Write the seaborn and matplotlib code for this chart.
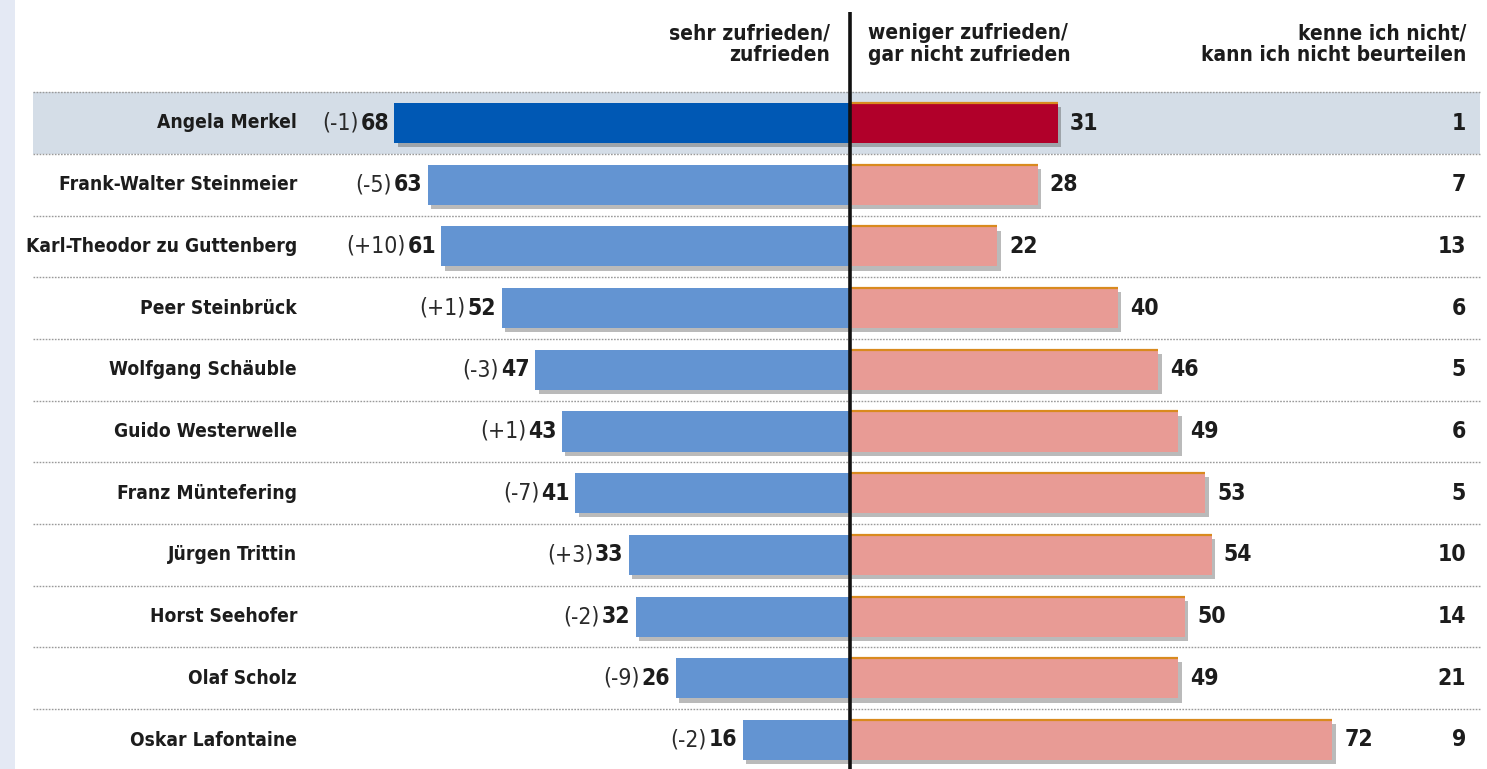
import matplotlib
matplotlib.use('Agg')
import matplotlib.pyplot as plt
import seaborn as sns
import numpy as np
import pandas as pd
from matplotlib import patheffects as pe
from matplotlib.patches import Rectangle

# ---------------- data ----------------
names = ["Angela Merkel", "Frank-Walter Steinmeier", "Karl-Theodor zu Guttenberg",
         "Peer Steinbrück", "Wolfgang Schäuble", "Guido Westerwelle",
         "Franz Müntefering", "Jürgen Trittin", "Horst Seehofer",
         "Olaf Scholz", "Oskar Lafontaine"]
satisfied = [68, 63, 61, 52, 47, 43, 41, 33, 32, 26, 16]
change = ["(-1)", "(-5)", "(+10)", "(+1)", "(-3)", "(+1)", "(-7)", "(+3)", "(-2)", "(-9)", "(-2)"]
dissatisfied = [31, 28, 22, 40, 46, 49, 53, 54, 50, 49, 72]
unknown = [1, 7, 13, 6, 5, 6, 5, 10, 14, 21, 9]

header_sat = "sehr zufrieden/\nzufrieden"
header_dis = "weniger zufrieden/\ngar nicht zufrieden"
header_unk = "kenne ich nicht/\nkann ich nicht beurteilen"

# ---------------- style ----------------
sns.set_theme(style="white")
FAM = ['DejaVu Sans']
plt.rcParams['font.family'] = FAM
ST = 'condensed'

W, H = 1487, 769
fig = plt.figure(figsize=(W / 100, H / 100), dpi=100, facecolor='white')
ax = fig.add_axes([0, 0, 1, 1])
ax.patch.set_visible(False)

CX, SX = 850, 6.7
Y0, SY = 123, 61.7
def px2x(p): return (p - CX) / SX
def px2y(p): return (p - Y0) / SY

df = pd.DataFrame({"name": names, "sat": satisfied, "dis": dissatisfied, "unk": unknown})
df["neg"] = -df["sat"]

blue_pal = ['#0058b4'] + ['#6394d2'] * (len(names) - 1)
red_pal = ['#b1002a'] + ['#e89b95'] * (len(names) - 1)

sns.barplot(data=df, x="neg", y="name", hue="name", palette=blue_pal, width=0.65,
            legend=False, ax=ax, orient="h", dodge=False, saturation=1)
sns.barplot(data=df, x="dis", y="name", hue="name", palette=red_pal, width=0.65,
            legend=False, ax=ax, orient="h", dodge=False, saturation=1)

for p in ax.patches:
    p.set_linewidth(0)
    p.set_zorder(2)
    p.set_path_effects([pe.SimplePatchShadow(offset=(2.5, -3), shadow_rgbFace='#3a3a3a', alpha=0.35),
                        pe.Normal()])

ax.set_xlim(px2x(0), px2x(W))
ax.set_ylim(px2y(H), px2y(0))
ax.axis('off')

for i, v in enumerate(dissatisfied):
    ax.plot([0, v], [i - 0.325, i - 0.325], color='#d98a1e', lw=1.6, zorder=3,
            solid_capstyle='butt')

xl, xr = px2x(33), px2x(1480)
ax.add_patch(Rectangle((xl, -0.5), xr - xl, 1, facecolor='#d4dde7', edgecolor='none', zorder=0))
for y in np.arange(-0.5, len(names), 1):
    ax.plot([xl, xr], [y, y], color='#9a9a9a', lw=1.0, ls=(0, (1.2, 1.0)), zorder=1)

ax.plot([0, 0], [px2y(12), px2y(H)], color='#111111', lw=2.6, zorder=5, solid_capstyle='butt')

fig.patches.append(Rectangle((0, 0), 15 / W, 1, transform=fig.transFigure,
                             facecolor='#e4e9f4', edgecolor='none', zorder=0))

TXT = '#1c1c1c'
name_texts = []
for i, n in enumerate(names):
    t = ax.text(px2x(297), i, n, ha='right', va='center', fontsize=15.5, fontweight='bold',
                fontstretch=ST, color=TXT)
    name_texts.append(t)

num_texts = []
for i, v in enumerate(satisfied):
    t = ax.text(-v - 0.8, i, str(v), ha='right', va='center', fontsize=16.5,
                fontweight='bold', fontstretch=ST, color=TXT)
    num_texts.append(t)

fig.canvas.draw()
renderer = fig.canvas.get_renderer()
maxw = max(t.get_window_extent(renderer).width for t in name_texts)
if maxw > 270:
    fs = 15.5 * 270 / maxw
    for t in name_texts:
        t.set_fontsize(fs)
fig.canvas.draw()

inv = ax.transData.inverted()
for i, t in enumerate(num_texts):
    bb = t.get_window_extent(renderer)
    xd = inv.transform((bb.x0 - 2, 0))[0]
    ax.text(xd, i, change[i], ha='right', va='center', fontsize=16.5, fontweight='normal',
            fontstretch=ST, color='#2a2a2a')

for i, v in enumerate(dissatisfied):
    ax.text(v + 1.8, i, str(v), ha='left', va='center', fontsize=16.5,
            fontweight='bold', fontstretch=ST, color=TXT)

for i, v in enumerate(unknown):
    ax.text(px2x(1466), i, str(v), ha='right', va='center', fontsize=16.5,
            fontweight='bold', fontstretch=ST, color=TXT)

hy = px2y(44)
for x, txt, ha in [(px2x(830), header_sat, 'right'), (px2x(868), header_dis, 'left'),
                   (px2x(1466), header_unk, 'right')]:
    ax.text(x, hy, txt, ha=ha, va='center', multialignment=ha, fontsize=15,
            fontweight='bold', fontstretch=ST, color=TXT, linespacing=1.1)

fig.savefig('out.png', dpi=100, facecolor='white')
